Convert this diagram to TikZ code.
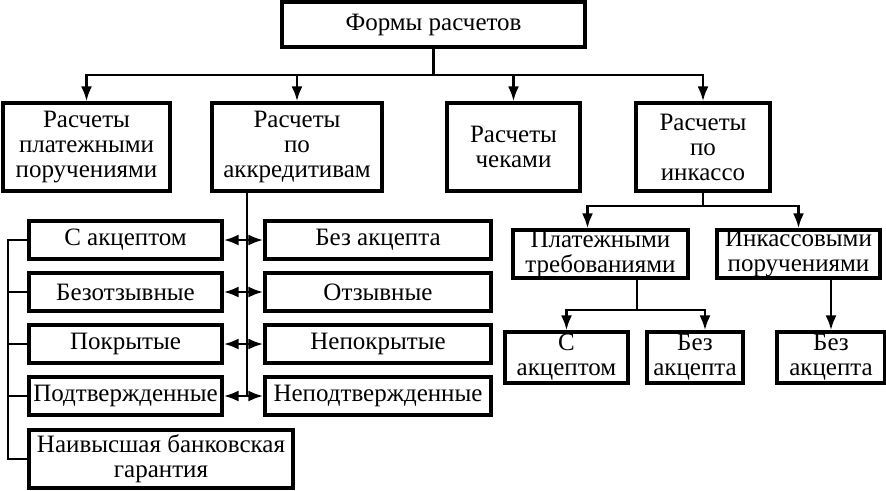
\documentclass[tikz,border=0pt]{standalone}
\usepackage{fontspec}
\setmainfont{Liberation Serif}
\usetikzlibrary{arrows.meta}
\tikzset{>={Latex[length=15pt,width=11pt]}}
\tikzset{
  box/.style={draw, line width=3.2pt, align=center, inner sep=0pt, font=\fontsize{25}{25}\selectfont},
  link/.style={line width=2.8pt},
}

\begin{document}
\begin{tikzpicture}[x=1pt, y=-1pt]
\useasboundingbox (0,0) rectangle (886,490);

\node[box, minimum width=303pt, minimum height=45pt] (forms) at (433.5,24.5) {Формы расчетов};

\node[box, minimum width=167pt, minimum height=88pt] (plat) at (86.5,147) {Расчеты\\платежными\\поручениями};
\node[box, minimum width=170pt, minimum height=88pt] (akkr) at (297,147) {Расчеты\\по\\аккредитивам};
\node[box, minimum width=133pt, minimum height=88pt] (chek) at (513.5,147) {Расчеты\\чеками};
\node[box, minimum width=134pt, minimum height=88pt] (inka) at (703,147) {Расчеты\\по\\инкассо};

\coordinate (bus) at (436,75);
\foreach \n in {plat,akkr,chek,inka}
  \draw[link,->] (forms.south) -- (forms.south |- bus) -| (\n.north);

\node[box, minimum width=193pt, minimum height=38pt] (l1) at (125.5,240) {С акцептом};
\node[box, minimum width=193pt, minimum height=38pt] (l2) at (125.5,292) {Безотзывные};
\node[box, minimum width=193pt, minimum height=38pt] (l3) at (125.5,344) {Покрытые};
\node[box, minimum width=193pt, minimum height=38pt] (l4) at (125.5,396) {Подтвержденные};
\node[box, minimum width=264pt, minimum height=58pt] (gar) at (161,459) {Наивысшая банковская\\гарантия};

\node[box, minimum width=226pt, minimum height=38pt] (r1) at (378,240) {Без акцепта};
\node[box, minimum width=226pt, minimum height=38pt] (r2) at (378,292) {Отзывные};
\node[box, minimum width=226pt, minimum height=38pt] (r3) at (378,344) {Непокрытые};
\node[box, minimum width=226pt, minimum height=38pt] (r4) at (378,396) {Неподтвержденные};

\coordinate (trunk) at (247,397);
\draw[link] (akkr.south -| trunk) -- (trunk);
\foreach \i in {1,2,3,4}
  \draw[link,<->] (l\i.east) -- (r\i.west);

\coordinate (brk) at (8,240);
\draw[line width=2pt] (l1.west) -- (l1.west -| brk) -- (gar.west -| brk) -- (gar.west);
\foreach \i in {2,3,4}
  \draw[line width=2pt] (l\i.west) -- (l\i.west -| brk);

\node[box, minimum width=175pt, minimum height=48pt] (treb) at (600.5,254) {Платежными\\требованиями};
\node[box, minimum width=163pt, minimum height=48pt] (poru) at (798.5,254) {Инкассовыми\\поручениями};

\coordinate (bus2) at (707,206);
\draw[link,->] (inka.south) -- (inka.south |- bus2) -| ([xshift=-13pt]treb.north);
\draw[link,->] (inka.south) -- (inka.south |- bus2) -| (poru.north);

\node[box, minimum width=123pt, minimum height=51pt] (s1) at (566.5,357.5) {С\\акцептом};
\node[box, minimum width=96pt, minimum height=51pt] (s2) at (695,357.5) {Без\\акцепта};
\node[box, minimum width=108pt, minimum height=51pt] (s3) at (831,357.5) {Без\\акцепта};

\coordinate (bus3) at (637,310);
\draw[link,->] (treb.south -| bus3) -- (bus3) -| (s1.north);
\draw[link,->] (treb.south -| bus3) -- (bus3) -| ([xshift=10pt]s2.north);
\draw[link,->] (poru.south -| s3.north) -- (s3.north);

\end{tikzpicture}
\end{document}
